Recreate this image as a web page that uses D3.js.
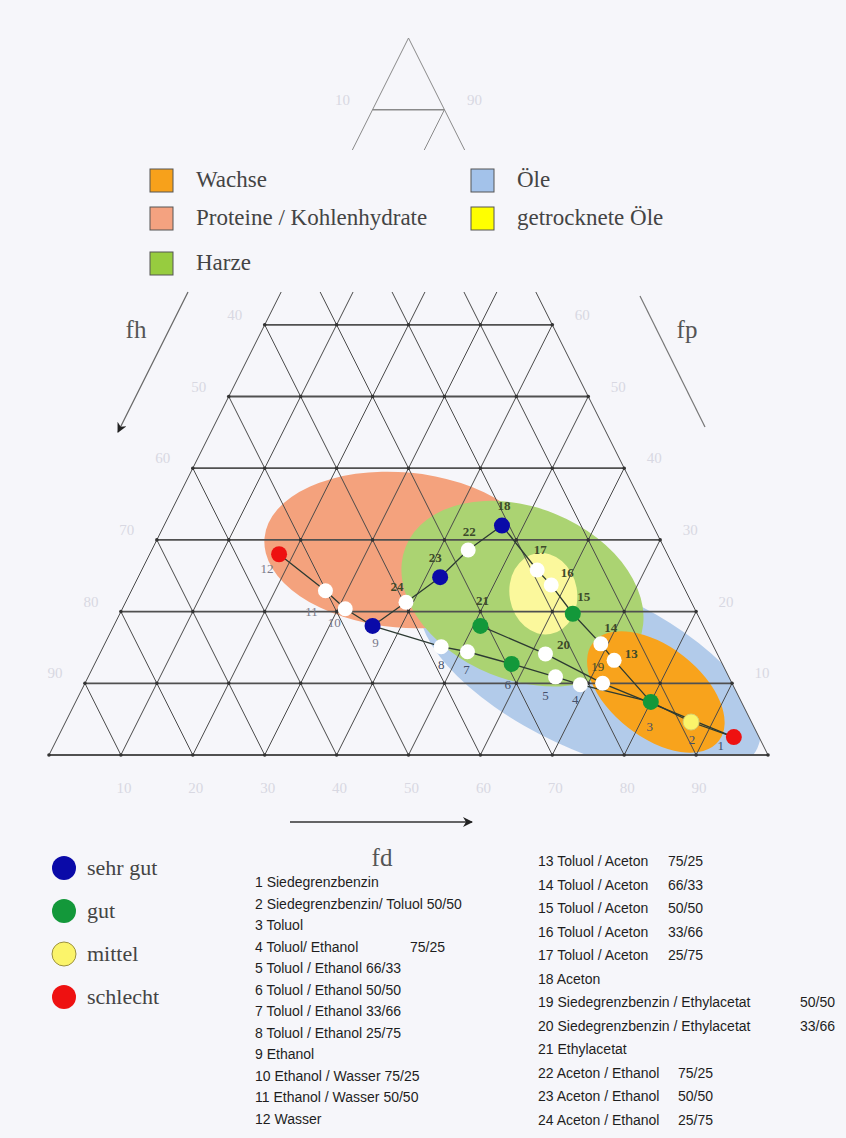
<!DOCTYPE html>
<html>
<head>
<meta charset="utf-8">
<script src="https://cdn.jsdelivr.net/npm/d3@7"></script>
<style>
  body { margin: 0; background: #f6f6fa; }
  text { font-family: "Liberation Serif", "DejaVu Serif", serif; }
  .list text { font-family: "Liberation Sans", Arial, sans-serif; font-size: 14px; fill: #1e1e1e; }
</style>
</head>
<body>
<svg id="chart" width="846" height="1138"></svg>
<script>
//^^^^^^^^^^^^^^^^^^^^^^^^^^^^^^^^^^^^^^^^^^^^^^^^^^^^^^^^^^^^^^^^^^^^^^^^^^^^
// Data: Teas parameters (fd, fp; fh = 100 - fd - fp)
//------------------------------------------------------------------------------
var solventIds = [1, 2, 3, 4, 5, 6, 7, 8, 9, 10, 11, 12,
                  13, 14, 15, 16, 17, 18, 19, 20, 21, 22, 23, 24];
var fdValues = [94, 87, 80, 69, 65, 58, 51, 47, 36, 31, 27, 18,
                72, 69, 63, 58, 55, 47, 72, 62, 51, 44, 42, 39];
var fpValues = [2.5, 4.6, 7.4, 9.8, 10.9, 12.7, 14.4, 15.1, 18, 20.4, 22.9, 28,
                13.2, 15.5, 19.7, 23.7, 25.8, 32, 10, 14.1, 18, 28.6, 24.8, 21.3];
var ratings = ["schlecht", "mittel", "gut", "", "", "gut", "", "", "sehr gut", "", "", "schlecht",
               "", "", "gut", "", "", "sehr gut", "", "", "gut", "", "sehr gut", ""];

// mixture series (solvent ids joined by lines)
var mixSeries = [
    [12, 11, 10, 9],
    [9, 8, 7, 6, 5, 4, 3],
    [9, 24, 23, 22, 18],
    [18, 17, 16, 15, 14, 13, 3],
    [21, 20, 19, 1],
    [1, 2, 3]
];

// solubility regions (ellipses): centre in fd/fp, semi axes in fd units
var regionNames  = ["Öle", "Proteine / Kohlenhydrate", "Harze", "getrocknete Öle", "Wachse"];
var regionFd     = [69.3, 34.8, 54.6, 57.5, 80.0];
var regionFp     = [11.85, 28.6, 22.5, 22.5, 8.8];
var regionRx     = [25.7, 19.2, 17.5, 4.7, 11.1];
var regionRy     = [11.1, 10.8, 12.0, 5.7, 6.3];
var regionAngle  = [25, 5, 22, -10, 38];

var gridSteps = [0, 10, 20, 30, 40, 50, 60, 70, 80, 90, 100];
var fdTicks = [10, 20, 30, 40, 50, 60, 70, 80, 90];
var fpTicks = [10, 20, 30, 40, 50, 60, 90];

var ratingNames = ["sehr gut", "gut", "mittel", "schlecht"];

var listLeft = [
    ["1 Siedegrenzbenzin", ""],
    ["2 Siedegrenzbenzin/ Toluol  50/50", ""],
    ["3 Toluol", ""],
    ["4 Toluol/ Ethanol", "75/25"],
    ["5 Toluol / Ethanol 66/33", ""],
    ["6 Toluol / Ethanol 50/50", ""],
    ["7 Toluol / Ethanol 33/66", ""],
    ["8 Toluol / Ethanol 25/75", ""],
    ["9 Ethanol", ""],
    ["10 Ethanol / Wasser 75/25", ""],
    ["11 Ethanol / Wasser 50/50", ""],
    ["12 Wasser", ""]
];
var listRight = [
    ["13 Toluol / Aceton", "75/25"],
    ["14 Toluol / Aceton", "66/33"],
    ["15 Toluol / Aceton", "50/50"],
    ["16 Toluol / Aceton", "33/66"],
    ["17 Toluol / Aceton", "25/75"],
    ["18 Aceton", ""],
    ["19 Siedegrenzbenzin / Ethylacetat", "50/50"],
    ["20 Siedegrenzbenzin / Ethylacetat", "33/66"],
    ["21 Ethylacetat", ""],
    ["22 Aceton / Ethanol", "75/25"],
    ["23 Aceton / Ethanol", "50/50"],
    ["24 Aceton / Ethanol", "25/75"]
];

//^^^^^^^^^^^^^^^^^^^^^^^^^^^^^^^^^^^^^^^^^^^^^^^^^^^^^^^^^^^^^^^^^^^^^^^^^^^^
// Styles
//------------------------------------------------------------------------------
var regionColor = {
    "Öle": "#b2cbea",
    "Proteine / Kohlenhydrate": "#f4a27d",
    "Harze": "#abd372",
    "getrocknete Öle": "#fbf89c",
    "Wachse": "#f8a31c"
};
var legendSquareColor = {
    "Wachse": "#f7a11b",
    "Proteine / Kohlenhydrate": "#f4a280",
    "Harze": "#97cc3f",
    "Öle": "#a3c2ea",
    "getrocknete Öle": "#ffff00"
};
var ratingColor = {
    "sehr gut": "#0a0aa8",
    "gut": "#13983a",
    "mittel": "#fbf46a",
    "schlecht": "#ee1111",
    "": "#ffffff"
};

// label offsets from each point (pixels)
var labelOffsets = {
    1: [-13, 9], 2: [1, 18], 3: [-1, 25], 4: [-5, 15], 5: [-10, 19], 6: [-4, 21],
    7: [-1, 18], 8: [0, 18], 9: [3, 17], 10: [-11, 14], 11: [-14, 21], 12: [-12, 15],
    13: [17, -6], 14: [10, -16], 15: [11, -17], 16: [16, -12], 17: [3, -20],
    18: [2, -20], 19: [-5, -16], 20: [18, -9], 21: [2, -25], 22: [1, -18],
    23: [-5, -19], 24: [-9, -15]
};

var svg = d3.select("#chart");

// ternary projection: x from fd + fp/2, y from fp
var xs = d3.scaleLinear().domain([0, 100]).range([49, 768]);
var ys = d3.scaleLinear().domain([0, 100]).range([755, 38]);
function px(fd, fp) { return [xs(fd + fp / 2), ys(fp)]; }

var defs = svg.append("defs");
defs.append("clipPath").attr("id", "clip_main")
    .append("rect").attr("x", 0).attr("y", 292).attr("width", 846).attr("height", 470);
defs.append("clipPath").attr("id", "clip_top")
    .append("rect").attr("x", 0).attr("y", 20).attr("width", 846).attr("height", 130);
defs.append("clipPath").attr("id", "clip_tri")
    .append("polygon")
    .attr("points", [px(0, 0), px(100, 0), px(0, 100)].map(function(p) { return p.join(","); }).join(" "));

//^^^^^^^^^^^^^^^^^^^^^^^^^^^^^^^^^^^^^^^^^^^^^^^^^^^^^^^^^^^^^^^^^^^^^^^^^^^^
// Regions
//------------------------------------------------------------------------------
var unit = xs(1) - xs(0);
svg.append("g").attr("clip-path", "url(#clip_tri)").selectAll("ellipse")
    .data(regionNames)
    .enter().append("ellipse")
    .attr("transform", function(d, i) {
        var c = px(regionFd[i], regionFp[i]);
        return "translate(" + c[0] + "," + c[1] + ") rotate(" + regionAngle[i] + ")";
    })
    .attr("rx", function(d, i) { return regionRx[i] * unit; })
    .attr("ry", function(d, i) { return regionRy[i] * unit; })
    .attr("fill", function(d) { return regionColor[d]; });

//^^^^^^^^^^^^^^^^^^^^^^^^^^^^^^^^^^^^^^^^^^^^^^^^^^^^^^^^^^^^^^^^^^^^^^^^^^^^
// Grid
//------------------------------------------------------------------------------
var fpLines = gridSteps.slice(0, 10).map(function(v) { return [px(0, v), px(100 - v, v)]; });
var fdLines = gridSteps.slice(0, 10).map(function(v) { return [px(v, 0), px(v, 100 - v)]; });
var fhLines = gridSteps.slice(0, 10).map(function(v) { return [px(100 - v, 0), px(0, 100 - v)]; });

function drawLines(g, lines, color, width) {
    g.selectAll(null).data(lines).enter().append("line")
        .attr("x1", function(d) { return d[0][0]; })
        .attr("y1", function(d) { return d[0][1]; })
        .attr("x2", function(d) { return d[1][0]; })
        .attr("y2", function(d) { return d[1][1]; })
        .attr("stroke", color)
        .attr("stroke-width", width);
}

var gMain = svg.append("g").attr("clip-path", "url(#clip_main)");
drawLines(gMain, fdLines, "#4a4a4a", 1);
drawLines(gMain, fhLines, "#4a4a4a", 1);
drawLines(gMain, fpLines, "#505050", 1.8);

var vertices = [];
gridSteps.forEach(function(a) {
    gridSteps.forEach(function(b) {
        if (a + b <= 100) vertices.push(px(a, b));
    });
});
gMain.selectAll("circle.vx").data(vertices).enter().append("circle")
    .attr("class", "vx")
    .attr("cx", function(d) { return d[0]; })
    .attr("cy", function(d) { return d[1]; })
    .attr("r", 1.8)
    .attr("fill", "#333");

var gTop = svg.append("g").attr("clip-path", "url(#clip_top)");
drawLines(gTop, fdLines, "#8a8a8a", 1);
drawLines(gTop, [fhLines[0]], "#8a8a8a", 1);
drawLines(gTop, fpLines, "#8a8a8a", 1.6);

// faint tick labels
var tickColor = "#d8d8e2";
svg.append("g").selectAll("text").data(fdTicks).enter().append("text")
    .attr("x", function(d) { return xs(d) + 3; })
    .attr("y", 793)
    .attr("text-anchor", "middle")
    .attr("font-size", 15)
    .attr("fill", tickColor)
    .text(function(d) { return d; });
svg.append("g").selectAll("text").data(fpTicks).enter().append("text")
    .attr("x", function(d) { return px(100 - d, d)[0] + 30; })
    .attr("y", function(d) { return ys(d) - 5; })
    .attr("text-anchor", "middle")
    .attr("font-size", 15)
    .attr("fill", tickColor)
    .text(function(d) { return d; });
svg.append("g").selectAll("text").data(fpTicks).enter().append("text")
    .attr("x", function(d) { return px(0, d)[0] - 30; })
    .attr("y", function(d) { return ys(d) - 5; })
    .attr("text-anchor", "middle")
    .attr("font-size", 15)
    .attr("fill", tickColor)
    .text(function(d) { return 100 - d; });

//^^^^^^^^^^^^^^^^^^^^^^^^^^^^^^^^^^^^^^^^^^^^^^^^^^^^^^^^^^^^^^^^^^^^^^^^^^^^
// Axis captions and arrows
//------------------------------------------------------------------------------
defs.append("marker").attr("id", "arrow")
    .attr("viewBox", "0 0 10 10").attr("refX", 9).attr("refY", 5)
    .attr("markerWidth", 14).attr("markerHeight", 10).attr("markerUnits", "userSpaceOnUse")
    .attr("orient", "auto")
    .append("path").attr("d", "M0,0 L10,5 L0,10 L3,5 Z").attr("fill", "#222");

svg.append("line").attr("x1", 188).attr("y1", 292).attr("x2", 118).attr("y2", 432)
    .attr("stroke", "#666").attr("stroke-width", 1.2).attr("marker-end", "url(#arrow)");
svg.append("line").attr("x1", 640).attr("y1", 296).attr("x2", 705).attr("y2", 427)
    .attr("stroke", "#777").attr("stroke-width", 1.2);
svg.append("line").attr("x1", 290).attr("y1", 822).attr("x2", 472).attr("y2", 822)
    .attr("stroke", "#333").attr("stroke-width", 1.3).attr("marker-end", "url(#arrow)");

svg.append("text").attr("x", 136).attr("y", 338).attr("text-anchor", "middle")
    .attr("font-size", 25).attr("fill", "#555").text("fh");
svg.append("text").attr("x", 687).attr("y", 338).attr("text-anchor", "middle")
    .attr("font-size", 25).attr("fill", "#555").text("fp");
svg.append("text").attr("x", 382).attr("y", 866).attr("text-anchor", "middle")
    .attr("font-size", 25).attr("fill", "#555").text("fd");

//^^^^^^^^^^^^^^^^^^^^^^^^^^^^^^^^^^^^^^^^^^^^^^^^^^^^^^^^^^^^^^^^^^^^^^^^^^^^
// Mixture lines, points and numbers
//------------------------------------------------------------------------------
function pos(id) {
    var i = solventIds.indexOf(id);
    return px(fdValues[i], fpValues[i]);
}
var line = d3.line().x(function(d) { return pos(d)[0]; }).y(function(d) { return pos(d)[1]; });
svg.append("g").selectAll("path").data(mixSeries).enter().append("path")
    .attr("d", line)
    .attr("fill", "none")
    .attr("stroke", "#2c3a32")
    .attr("stroke-width", 1.3);

svg.append("g").selectAll("circle").data(solventIds).enter().append("circle")
    .attr("cx", function(d) { return pos(d)[0]; })
    .attr("cy", function(d) { return pos(d)[1]; })
    .attr("r", function(d, i) { return ratings[i] ? 8 : 7.5; })
    .attr("fill", function(d, i) { return ratingColor[ratings[i]]; })
    .attr("stroke", function(d, i) { return ratings[i] === "mittel" ? "#d8d070" : "none"; });

svg.append("g").selectAll("text").data(solventIds).enter().append("text")
    .attr("x", function(d) { return pos(d)[0] + labelOffsets[d][0]; })
    .attr("y", function(d) { return pos(d)[1] + labelOffsets[d][1] + 4; })
    .attr("text-anchor", "middle")
    .attr("font-size", 13)
    .attr("font-weight", function(d) { return d >= 13 && d <= 24 && d !== 19 ? "bold" : "normal"; })
    .attr("fill", function(d) { return d >= 13 ? "#3d4a2a" : (d >= 9 ? "#7a7a8a" : "#44506a"); })
    .text(function(d) { return d; });

//^^^^^^^^^^^^^^^^^^^^^^^^^^^^^^^^^^^^^^^^^^^^^^^^^^^^^^^^^^^^^^^^^^^^^^^^^^^^
// Region legend (top)
//------------------------------------------------------------------------------
var legendOrder = ["Wachse", "Proteine / Kohlenhydrate", "Harze", "Öle", "getrocknete Öle"];
var legendX = [150, 150, 150, 471, 471];
var legendY = [169, 207, 252, 169, 207];
var lg = svg.append("g").selectAll("g").data(legendOrder).enter().append("g")
    .attr("transform", function(d, i) { return "translate(" + legendX[i] + "," + legendY[i] + ")"; });
lg.append("rect").attr("width", 23).attr("height", 23)
    .attr("fill", function(d) { return legendSquareColor[d]; })
    .attr("stroke", "#555").attr("stroke-width", 1);
lg.append("text").attr("x", 46).attr("y", 18)
    .attr("font-size", 23).attr("fill", "#444")
    .text(function(d) { return d; });

//^^^^^^^^^^^^^^^^^^^^^^^^^^^^^^^^^^^^^^^^^^^^^^^^^^^^^^^^^^^^^^^^^^^^^^^^^^^^
// Rating legend (bottom left)
//------------------------------------------------------------------------------
var ratingY = d3.scalePoint().domain(ratingNames).range([868, 997]);
var rg = svg.append("g").selectAll("g").data(ratingNames).enter().append("g")
    .attr("transform", function(d) { return "translate(64," + ratingY(d) + ")"; });
rg.append("circle").attr("r", 12)
    .attr("fill", function(d) { return ratingColor[d]; })
    .attr("stroke", function(d) { return d === "mittel" ? "#9a9040" : "none"; })
    .attr("stroke-width", 1);
rg.append("text").attr("x", 23).attr("y", 7)
    .attr("font-size", 22).attr("fill", "#444")
    .text(function(d) { return d; });

//^^^^^^^^^^^^^^^^^^^^^^^^^^^^^^^^^^^^^^^^^^^^^^^^^^^^^^^^^^^^^^^^^^^^^^^^^^^^
// Solvent list
//------------------------------------------------------------------------------
function drawList(items, x, tabs, y0, y1) {
    var rowY = d3.scaleLinear().domain([0, items.length - 1]).range([y0, y1]);
    var g = svg.append("g").attr("class", "list");
    var rows = g.selectAll("g").data(items).enter().append("g");
    rows.append("text").attr("x", x).attr("y", function(d, i) { return rowY(i); })
        .text(function(d) { return d[0]; });
    rows.append("text").attr("x", function(d, i) { return tabs[i]; })
        .attr("y", function(d, i) { return rowY(i); })
        .text(function(d) { return d[1]; });
}
drawList(listLeft, 255, [0, 0, 0, 410, 0, 0, 0, 0, 0, 0, 0, 0], 887, 1124);
drawList(listRight, 538, [668, 668, 668, 668, 668, 0, 800, 800, 0, 678, 678, 678], 866, 1125);
</script>
</body>
</html>
